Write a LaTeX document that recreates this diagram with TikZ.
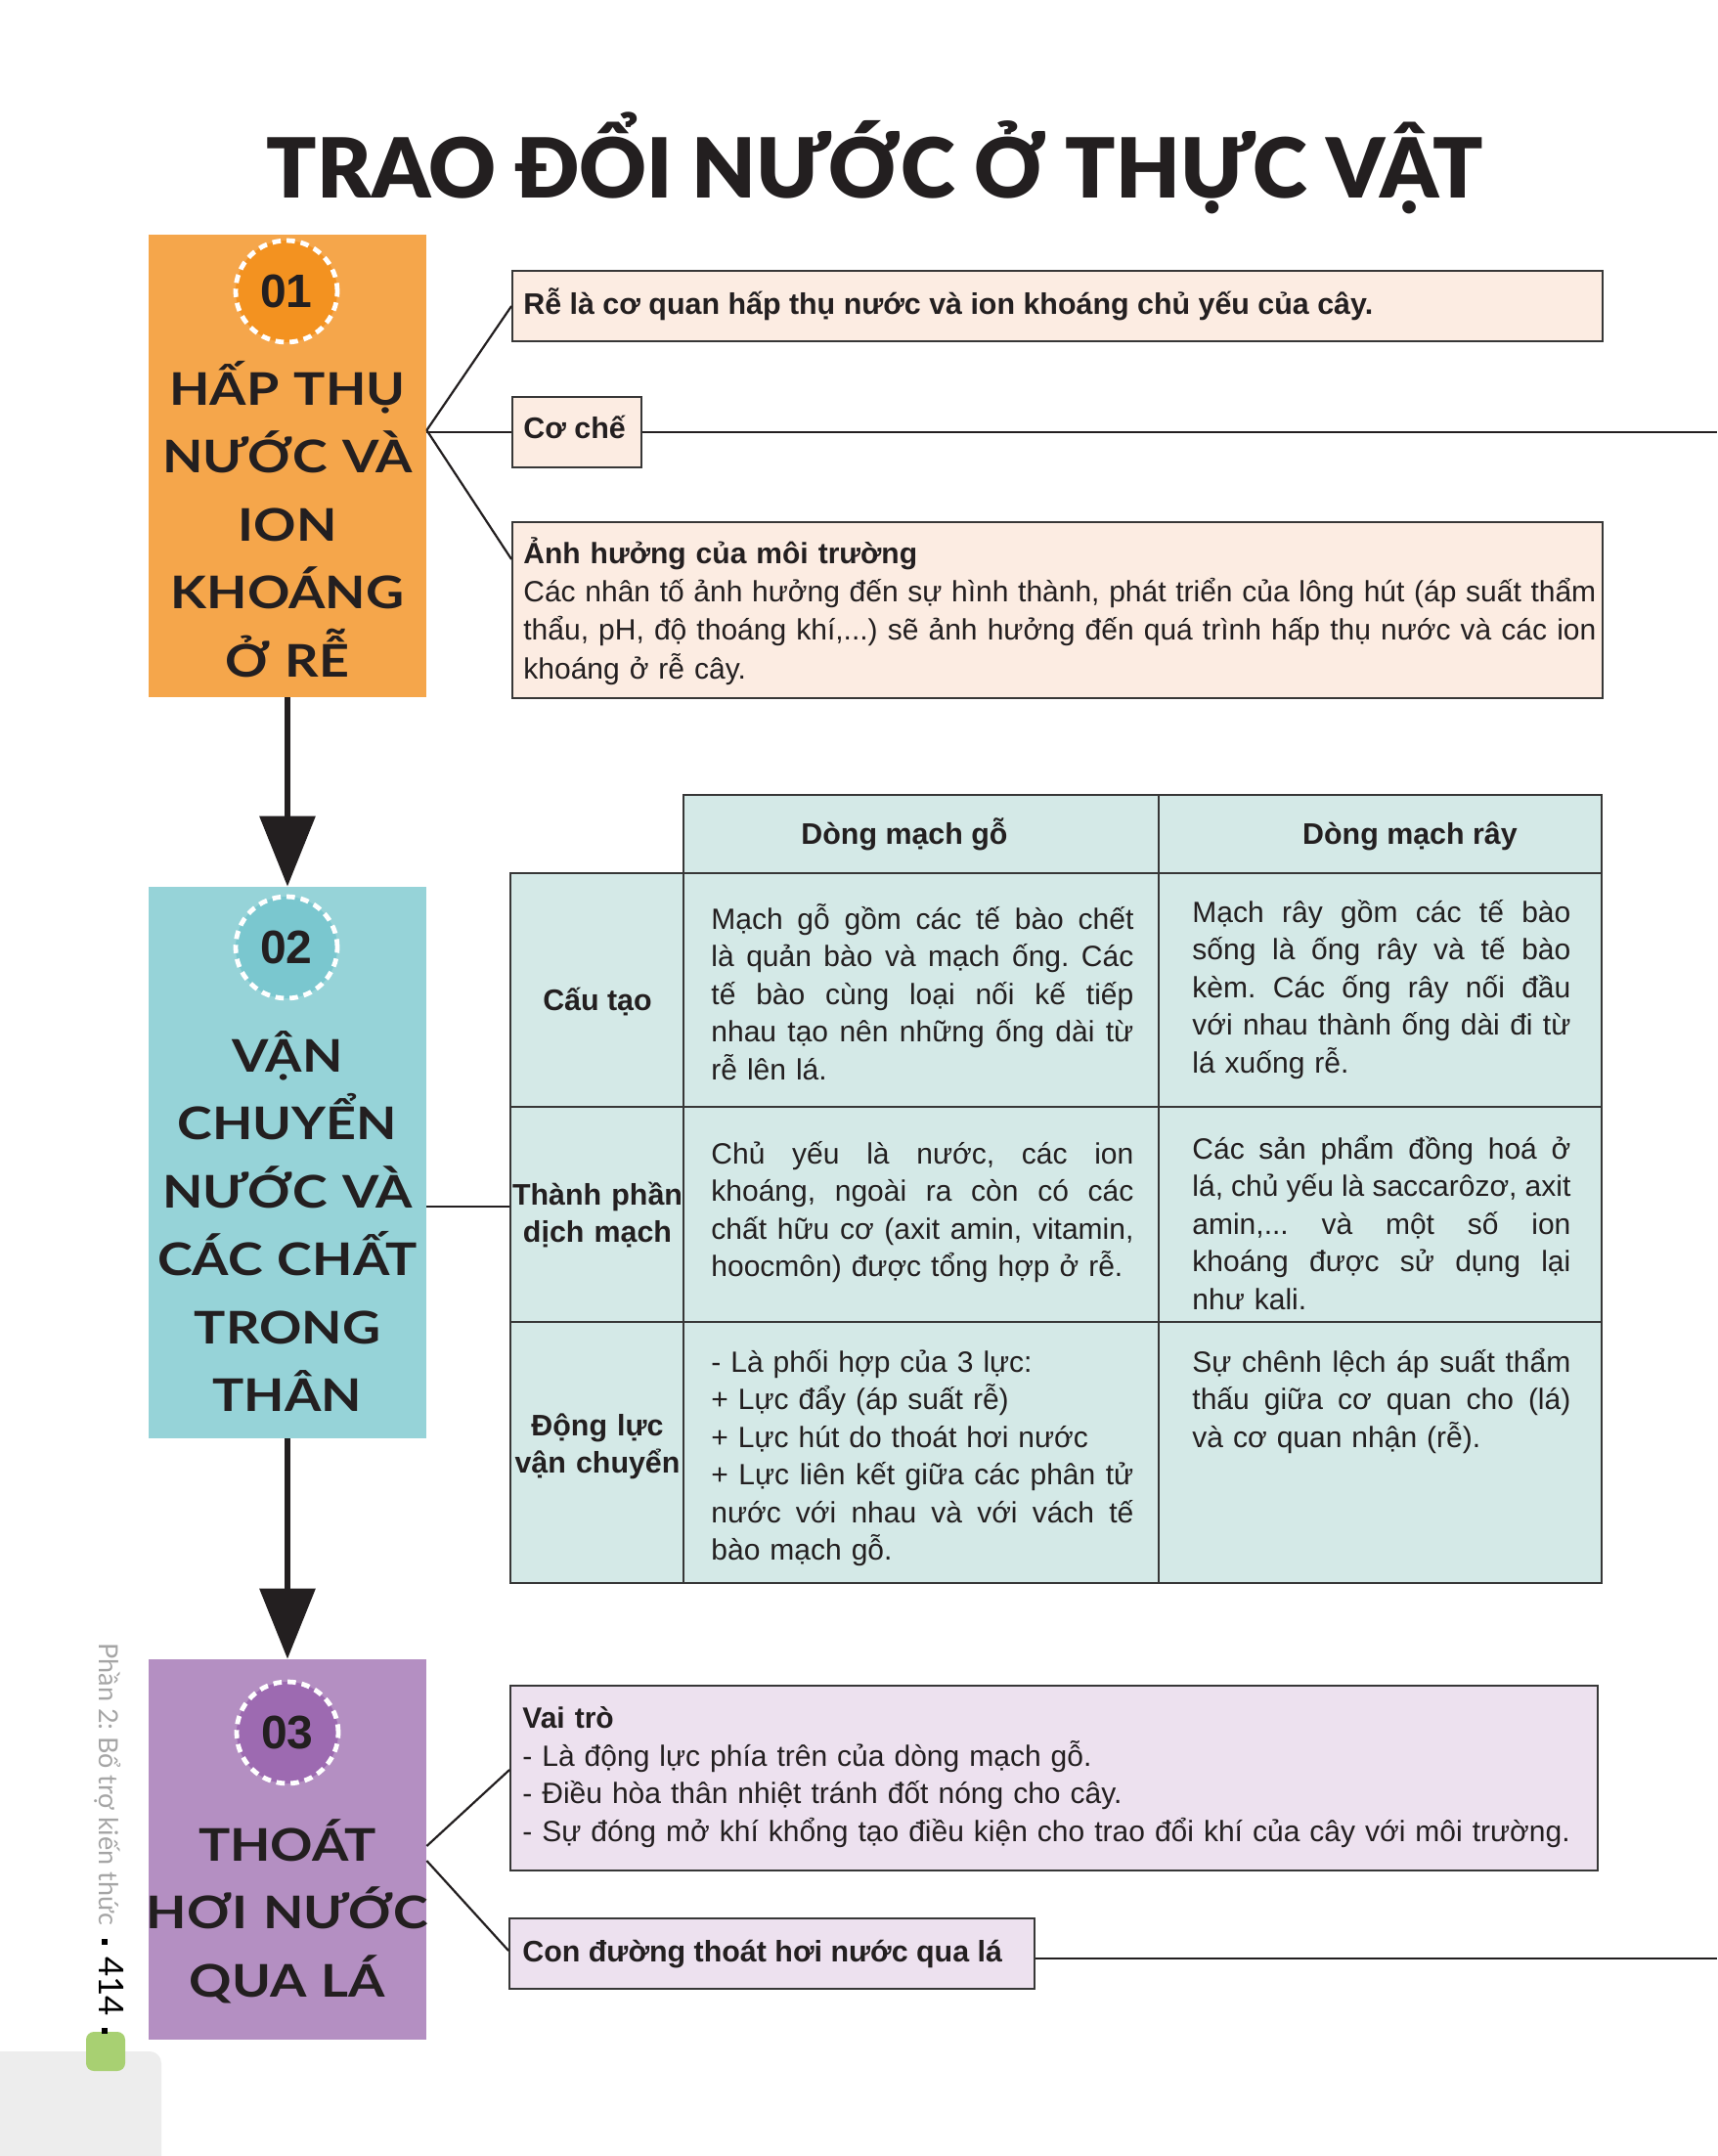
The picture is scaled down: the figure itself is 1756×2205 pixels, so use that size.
\documentclass[tikz,border=0pt]{standalone}
\usepackage{graphicx}
\usepackage{fontspec}
\setmainfont{Liberation Sans}
\IfFontExistsTF{Lato Black}
  {\newfontfamily\titlefontA{Lato Black}\newcommand\titlefont{\titlefontA}}
  {\newfontfamily\titlefontA{Lato}\newcommand\titlefont{\titlefontA\bfseries}}
\newfontfamily\labelfontA{Lato}[FakeStretch=1.17]
\newcommand\labelfont{\labelfontA\bfseries}
\newfontfamily\sidefont{Lato}
\usetikzlibrary{arrows.meta,fit,calc}
\setlength\parindent{0pt}
\frenchspacing
\definecolor{ink}{RGB}{35,31,32}
\definecolor{orbox}{RGB}{245,166,75}
\definecolor{orcirc}{RGB}{243,146,32}
\definecolor{tlbox}{RGB}{150,211,216}
\definecolor{tlcirc}{RGB}{122,199,207}
\definecolor{pubox}{RGB}{180,143,194}
\definecolor{pucirc}{RGB}{157,106,177}
\definecolor{peach}{RGB}{252,236,226}
\definecolor{lilac}{RGB}{237,225,239}
\definecolor{tealcell}{RGB}{212,233,231}
\definecolor{frame}{RGB}{55,55,55}
\definecolor{sidegrey}{RGB}{165,165,165}
\definecolor{pagegrey}{RGB}{237,237,237}
\definecolor{pagegreen}{RGB}{168,208,114}
\newcommand\jl[1]{\leavevmode\hbox to \hsize{\spaceskip=.278em plus 1fil minus .1em\xspaceskip=\spaceskip #1}}
\newcommand\fstrut{\rule{0pt}{18pt}}
\newcommand\lstrut{\rule{0pt}{26pt}}
\newcommand\sqb{\raisebox{1.5pt}{\rule{3pt}{3pt}}}
\newcommand\rbox[6]{\path (#3,#4) coordinate (#2-a) (#5,#6) coordinate (#2-b);
  \node[#1, fit=(#2-a)(#2-b)] (#2) {};}
\begin{document}
\begin{tikzpicture}[x=0.5pt,y=-0.5pt,
  conn/.style={draw=ink, line width=1.1pt},
  hconn/.style={draw=ink, line width=1.4pt},
  bigarrow/.style={draw=ink, line width=3.2pt, -{Triangle[length=36pt,width=28pt]}},
  sbox/.style={inner sep=0pt, draw=frame, line width=0.9pt},
  colbox/.style={inner sep=0pt, draw=none},
  cell/.style={sbox, fill=tealcell},
  numcirc/.style={circle, minimum size=52pt, inner sep=0pt, draw=white, line width=2.4pt,
    dash pattern=on 4.3pt off 3pt, text=ink, font=\bfseries\fontsize{24}{24}\selectfont},
  lbl/.style={anchor=north, inner sep=0pt, text width=200pt, align=center, text=ink,
    font=\labelfont\fontsize{23}{34.75}\selectfont},
  bodytext/.style={inner sep=0pt, text=ink, font=\fontsize{15}{19.2}\selectfont},
  boldtext/.style={inner sep=0pt, text=ink, font=\bfseries\fontsize{15.2}{19.2}\selectfont},
  para/.style={bodytext, anchor=north west, align=left},
]
\useasboundingbox (0,0) rectangle (1756,2205);
\fill[white] (0,0) rectangle (1756,2205);
% page decorations
\fill[pagegrey, rounded corners=6pt] (-40,2098) rectangle (165,2260);
\fill[pagegreen, rounded corners=4pt] (88,2078) rectangle (128,2118);
\node[rotate=-90, anchor=base west, inner sep=0pt, font=\sidefont\fontsize{13.5}{14}\selectfont] (side) at (101,1680)
  {\textcolor{sidegrey}{Phần 2: Bổ trợ kiến thức}\hspace{7pt}\sqb\hspace{6pt}{\fontsize{17.5}{18}\selectfont 414}\hspace{6pt}\sqb};

% title
\node[anchor=base, inner sep=0pt, text=ink, font=\titlefont\fontsize{44}{44}\selectfont] (title) at (895,202)
  {\resizebox{622pt}{!}{TRAO ĐỔI NƯỚC Ở THỰC VẬT}};

% left column boxes
\rbox{colbox, fill=orbox}{box1}{152}{240}{436}{713}
\rbox{colbox, fill=tlbox}{box2}{152}{907}{436}{1471}
\rbox{colbox, fill=pubox}{box3}{152}{1697}{436}{2086}

\node[numcirc, fill=orcirc] (n1) at (293,298) {01};
\node[numcirc, fill=tlcirc] (n2) at (293,969) {02};
\node[numcirc, fill=pucirc] (n3) at (294,1772) {03};

\node[lbl] (l1) at (294,362) {\lstrut HẤP THỤ\\NƯỚC VÀ\\ION\\KHOÁNG\\Ở RỄ};
\node[lbl] (l2) at (294,1044) {\lstrut VẬN\\CHUYỂN\\NƯỚC VÀ\\CÁC CHẤT\\TRONG\\THÂN};
\node[lbl] (l3) at (294,1851) {\lstrut THOÁT\\HƠI NƯỚC\\QUA LÁ};

\draw[bigarrow] (box1.south) -- (box2.north);
\draw[bigarrow] (box2.south) -- (box3.north);

% section 1
\rbox{sbox, fill=peach}{re}{524}{277}{1639}{349}
\rbox{sbox, fill=peach}{coche}{524}{406}{656}{478}
\rbox{sbox, fill=peach}{anh}{524}{534}{1639}{714}
\coordinate (edge1) at (1756,442);
\draw[conn] (box1.east |- 0,440) -- (re.west);
\draw[conn] (box1.east |- 0,440) -- (anh.west |- 0,572);
\draw[hconn] (box1.east |- edge1) -- (coche.west |- edge1);
\draw[hconn] (coche.east |- edge1) -- (edge1);
\node[boldtext, anchor=base west] (tre) at (535,321) {Rễ là cơ quan hấp thụ nước và ion khoáng chủ yếu của cây.};
\node[boldtext, anchor=base west] (tcoche) at (535,448) {Cơ chế};
\node[para, text width=548.5pt, font=\fontsize{15}{19.6}\selectfont] (tanh) at (535,540)
  {\fstrut\textbf{Ảnh hưởng của môi trường}\\
   \jl{Các nhân tố ảnh hưởng đến sự hình thành, phát triển của lông hút (áp suất thẩm}\\
   \jl{thẩu, pH, độ thoáng khí,...) sẽ ảnh hưởng đến quá trình hấp thụ nước và các ion}\\
   khoáng ở rễ cây.};

% table
\rbox{cell}{h1}{699}{813}{1185}{893}
\rbox{cell}{h2}{1185}{813}{1638}{893}
\rbox{cell}{r1c0}{522}{893}{699}{1132}
\rbox{cell}{r1c1}{699}{893}{1185}{1132}
\rbox{cell}{r1c2}{1185}{893}{1638}{1132}
\rbox{cell}{r2c0}{522}{1132}{699}{1352}
\rbox{cell}{r2c1}{699}{1132}{1185}{1352}
\rbox{cell}{r2c2}{1185}{1132}{1638}{1352}
\rbox{cell}{r3c0}{522}{1352}{699}{1619}
\rbox{cell}{r3c1}{699}{1352}{1185}{1619}
\rbox{cell}{r3c2}{1185}{1352}{1638}{1619}
\draw[conn, line width=1.2pt] (box2.east |- 0,1234) -- (r2c0.west |- 0,1234);

\node[boldtext, anchor=base] (th1) at (925,863) {Dòng mạch gỗ};
\node[boldtext, anchor=base] (th2) at (1442,863) {Dòng mạch rây};
\node[boldtext, anchor=base] (tc1) at (611,1033) {Cấu tạo};
\node[boldtext, anchor=north, text width=100pt, align=center] (tc2) at (611,1196) {\fstrut Thành phần\\dịch mạch};
\node[boldtext, anchor=north, text width=100pt, align=center] (tc3) at (611,1432) {\fstrut Động lực\\vận chuyển};

\node[para, text width=216pt] (t11) at (727,914)
  {\fstrut\jl{Mạch gỗ gồm các tế bào chết}\\\jl{là quản bào và mạch ống. Các}\\\jl{tế bào cùng loại nối kế tiếp}\\\jl{nhau tạo nên những ống dài từ}\\rễ lên lá.};
\node[para, text width=193.5pt] (t12) at (1219,907)
  {\fstrut\jl{Mạch rây gồm các tế bào}\\\jl{sống là ống rây và tế bào}\\\jl{kèm. Các ống rây nối đầu}\\\jl{với nhau thành ống dài đi từ}\\lá xuống rễ.};
\node[para, text width=216pt] (t21) at (727,1154)
  {\fstrut\jl{Chủ yếu là nước, các ion}\\\jl{khoáng, ngoài ra còn có các}\\\jl{chất hữu cơ (axit amin, vitamin,}\\hoocmôn) được tổng hợp ở rễ.};
\node[para, text width=193.5pt] (t22) at (1219,1149)
  {\fstrut\jl{Các sản phẩm đồng hoá ở}\\\jl{lá, chủ yếu là saccarôzơ, axit}\\\jl{amin,... và một số ion}\\\jl{khoáng được sử dụng lại}\\như kali.};
\node[para, text width=216pt] (t31) at (727,1367)
  {\fstrut - Là phối hợp của 3 lực:\\+ Lực đẩy (áp suất rễ)\\+ Lực hút do thoát hơi nước\\\jl{+ Lực liên kết giữa các phân tử}\\\jl{nước với nhau và với vách tế}\\bào mạch gỗ.};
\node[para, text width=193.5pt] (t32) at (1219,1367)
  {\fstrut\jl{Sự chênh lệch áp suất thẩm}\\\jl{thấu giữa cơ quan cho (lá)}\\và cơ quan nhận (rễ).};

% section 3
\rbox{sbox, fill=lilac}{vai}{522}{1724}{1634}{1913}
\rbox{sbox, fill=lilac}{con}{521}{1962}{1058}{2034}
\coordinate (edge3) at (1756,2003);
\draw[conn] (box3.east |- 0,1888) -- (vai.west |- 0,1810);
\draw[conn] (box3.east |- 0,1903) -- (con.west |- 0,1995);
\draw[hconn] (con.east |- edge3) -- (edge3);
\node[para, text width=580pt, font=\fontsize{15}{19.35}\selectfont] (tvai) at (534,1731)
  {\fstrut\textbf{Vai trò}\\- Là động lực phía trên của dòng mạch gỗ.\\- Điều hòa thân nhiệt tránh đốt nóng cho cây.\\- Sự đóng mở khí khổng tạo điều kiện cho trao đổi khí của cây với môi trường.};
\node[boldtext, anchor=base west] (tcon) at (534,2006) {Con đường thoát hơi nước qua lá};
\end{tikzpicture}
\end{document}
